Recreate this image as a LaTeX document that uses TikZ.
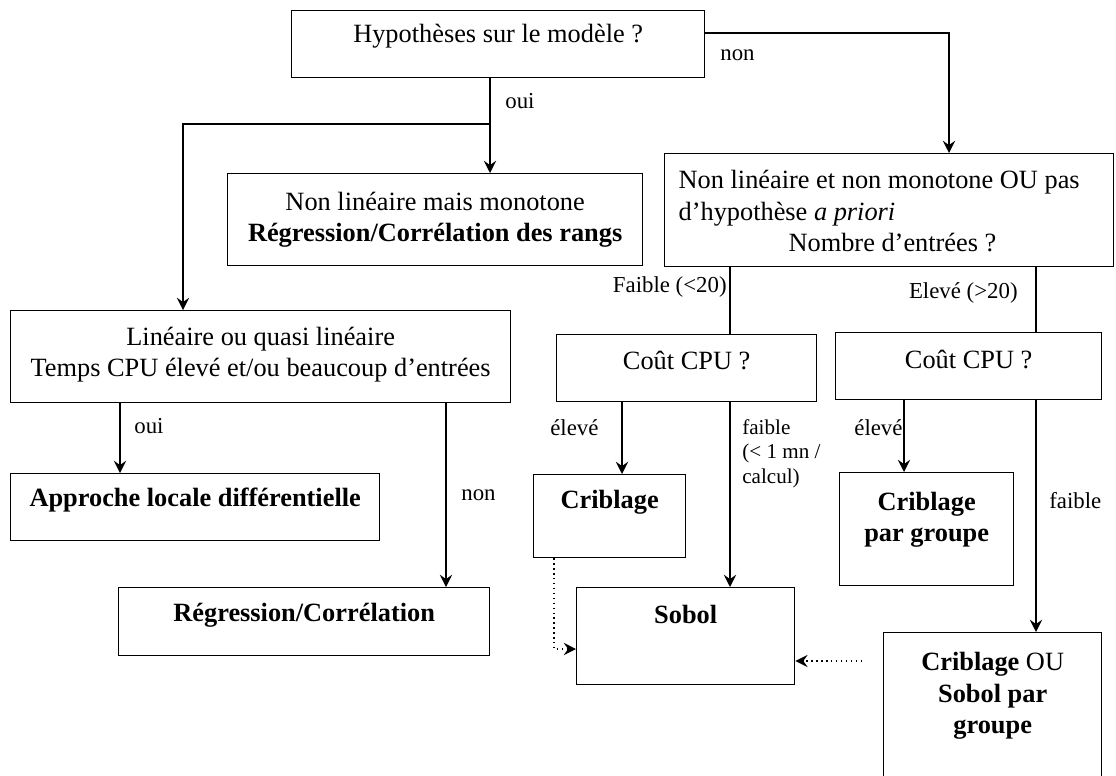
\documentclass[tikz,border=0pt]{standalone}
\usepackage{fontspec}
\setmainfont{Liberation Serif}
\usetikzlibrary{arrows.meta}

\begin{document}
\begin{tikzpicture}[x=0.02cm,y=-0.02cm,
    box/.style={draw,line width=0.8pt,rectangle,inner sep=0pt,align=center,anchor=north west,font=\fontsize{15}{18}\selectfont},
    lbl/.style={inner sep=0pt,font=\fontsize{13}{15}\selectfont},
    line/.style={line width=0.8pt},
    arr/.style={line width=0.8pt,-{Stealth[length=7pt,width=7pt,inset=2.5pt]}},
    dotarr/.style={line width=0.8pt,dotted,-{Stealth[length=7pt,width=7pt,inset=2.5pt]}}]
\useasboundingbox (0,0) rectangle (1116,775);
\clip (0,0) rectangle (1116,775);
%\draw[help lines] (0,0) grid (1116,775);
    \node[box,minimum width=8.26cm,text height=0.64cm,text depth=0.70cm] (hyp) at (291,10) {Hypothèses sur le modèle ?};
    \node[box,minimum width=8.30cm,text height=1.36cm,text depth=0.48cm] (nm) at (227,173) {Non linéaire mais monotone\\\textbf{Régression/Corrélation des rangs}};
    \node[box,align=left,minimum width=8.98cm,text height=1.96cm,text depth=0.30cm] (nl) at (664,153) {Non linéaire et non monotone OU pas\hspace*{0.4cm}\\d'hypothèse \textit{a priori}\\\hspace*{2.2cm}Nombre d'entrées ?};
    \node[box,minimum width=10cm,text height=1.32cm,text depth=0.52cm] (lq) at (10,310) {Linéaire ou quasi linéaire\\Temps CPU élevé et/ou beaucoup d'entrées};
    \node[box,minimum width=7.38cm,text height=0.66cm,text depth=0.68cm] (ald) at (10,473) {\textbf{Approche locale différentielle}};
    \node[box,minimum width=7.42cm,text height=0.68cm,text depth=0.68cm] (rc) at (118,587) {\textbf{Régression/Corrélation}};
    \node[box,minimum width=5.20cm,text height=0.70cm,text depth=0.64cm] (cpu1) at (556,334) {Coût CPU ?};
    \node[box,minimum width=5.32cm,text height=0.72cm,text depth=0.62cm] (cpu2) at (835,332) {Coût CPU ?};
    \node[box,minimum width=3.04cm,text height=0.68cm,text depth=0.98cm] (crib) at (533,474) {\textbf{Criblage}};
    \node[box,minimum width=3.48cm,text height=1.38cm,text depth=0.88cm] (cg) at (839,472) {\textbf{Criblage}\\\textbf{par groupe}};
    \node[box,minimum width=4.36cm,text height=0.72cm,text depth=1.22cm] (sobol) at (576,587) {\textbf{Sobol}};
    \node[box,minimum width=4.36cm,text height=2.02cm,text depth=1.04cm] (cos) at (883,632) {\textbf{Criblage} OU\\\textbf{Sobol par}\\\textbf{groupe}};

    \coordinate (xoui) at (490,124);
    \coordinate (xlin) at (183,0);
    \coordinate (ynon) at (949,33);
    \coordinate (xald) at (120,0);
    \coordinate (xreg) at (446,0);
    \coordinate (xfai) at (730,0);
    \coordinate (xele) at (1036,0);
    \coordinate (xcri) at (622,0);
    \coordinate (xcg) at (904,0);
    \coordinate (crd) at (554,649);
    \coordinate (cosd) at (862,661);

    \draw[line] (hyp.south -| xoui) -- (xoui);
    \draw[arr] (xoui) -- (nm.north -| xoui);
    \draw[arr] (xoui) -| (lq.north -| xlin);
    \draw[arr] (hyp.east |- ynon) -| (nl.north -| ynon);
    \draw[arr] (lq.south -| xald) -- (ald.north -| xald);
    \draw[arr] (lq.south -| xreg) -- (rc.north -| xreg);
    \draw[line] (nl.south -| xfai) -- (cpu1.north -| xfai);
    \draw[line] (nl.south -| xele) -- (cpu2.north -| xele);
    \draw[arr] (cpu1.south -| xcri) -- (crib.north -| xcri);
    \draw[arr] (cpu1.south -| xfai) -- (sobol.north -| xfai);
    \draw[arr] (cpu2.south -| xcg) -- (cg.north -| xcg);
    \draw[arr] (cpu2.south -| xele) -- (cos.north -| xele);
    \draw[dotarr] (crib.south -| crd) |- (sobol.west |- crd);
    \draw[dotarr] (cosd) -- (sobol.east |- cosd);

    \node[lbl,anchor=base west] (l-oui1) at (505,108) {oui};
    \node[lbl,anchor=base west] (l-non1) at (720,60) {non};
    \node[lbl,anchor=base west] (l-oui2) at (134,433) {oui};
    \node[lbl,anchor=base west] (l-non2) at (461,500) {non};
    \node[lbl,anchor=base east] (l-fai) at (727,292) {Faible (<20)};
    \node[lbl,anchor=base east] (l-ele) at (1018,298) {Elevé (>20)};
    \node[lbl,anchor=base west] (l-ele1) at (550,435) {élevé};
    \node[lbl,anchor=north west,align=left,font=\fontsize{12}{14}\selectfont] (l-fai1) at (742,419) {faible\\(< 1 mn /\\calcul)};
    \node[lbl,anchor=base west] (l-ele2) at (854,435) {élevé};
    \node[lbl,anchor=base west] (l-fai2) at (1049,508) {faible};
\end{tikzpicture}
\end{document}
